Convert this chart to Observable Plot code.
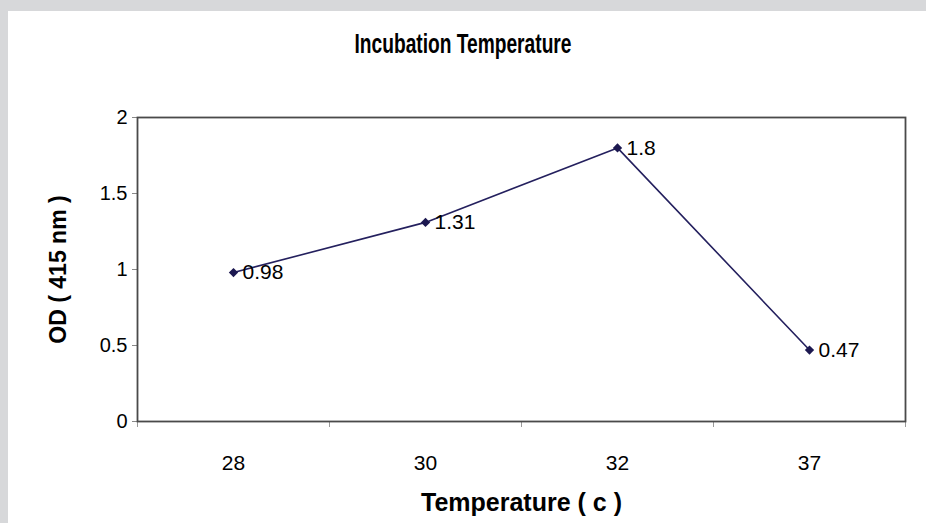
<!DOCTYPE html>
<html><head><meta charset="utf-8">
<script src="https://cdn.jsdelivr.net/npm/d3@7"></script>
<script src="https://cdn.jsdelivr.net/npm/@observablehq/plot@0.6"></script>
<style>
body{margin:0;background:#d7d8da;width:926px;height:523px;overflow:hidden;position:relative;font-family:"Liberation Sans",Arial,sans-serif;}
#panel{position:absolute;left:8px;top:11px;width:918px;height:512px;background:#fff;}
#title{position:absolute;left:0;top:29px;width:926px;text-align:center;font-weight:bold;font-size:27px;line-height:30px;transform:scaleX(0.71);transform-origin:463px 0;}
#chart{position:absolute;left:0;top:90px;}
</style></head><body>
<div id="panel"></div>
<div id="title"></div>
<div id="chart"></div>
<script>
const title = "Incubation Temperature";
const temperatures = ["28", "30", "32", "37"];
const od = [0.98, 1.31, 1.8, 0.47];
const valueLabels = ["0.98", "1.31", "1.8", "0.47"];
const yTicks = [0, 0.5, 1, 1.5, 2];
const xTitle = "Temperature ( c )";
const yTitle = "OD ( 415 nm )";

document.getElementById("title").textContent = title;
const data = temperatures.map((t, i) => ({pos: i + 0.5, t, od: od[i], label: valueLabels[i]}));
const bounds = d3.range(temperatures.length + 1);
const font = '"Liberation Sans",Arial,sans-serif';

const chart = Plot.plot({
  width: 926, height: 433,
  marginLeft: 137, marginRight: 21, marginTop: 27, marginBottom: 102,
  style: {background: "transparent", fontFamily: font, fontSize: "20px", color: "#000"},
  x: {type: "linear", domain: [0, temperatures.length]},
  y: {domain: [0, 2]},
  marks: [
    Plot.axisY({ticks: yTicks, tickSize: 5, tickPadding: 5, label: null, stroke: "#888", fill: "#000", fontSize: 20, tickFormat: d => String(d)}),
    Plot.axisX({ticks: bounds, tickSize: 6, tickFormat: () => "", label: null, stroke: "#999"}),
    Plot.axisX({ticks: data.map(d => d.pos), tickSize: 0, tickPadding: 34, label: null, fill: "#000", fontSize: 21, tickFormat: v => temperatures[Math.round(v - 0.5)]}),
    Plot.frame({stroke: "#4a4a4a", strokeWidth: 1.8}),
    Plot.line(data, {x: "pos", y: "od", stroke: "#24205e", strokeWidth: 1.6}),
    Plot.dot(data, {x: "pos", y: "od", symbol: "diamond2", r: 4.2, fill: "#1c1850", stroke: "none"}),
    Plot.text(data, {x: "pos", y: "od", text: "label", dx: 9, textAnchor: "start", fontSize: 21, fill: "#000"}),
    Plot.text([yTitle], {text: d => d, frameAnchor: "left", textAnchor: "middle", dx: -79, rotate: -90, fontWeight: "bold", fontSize: 23, fill: "#000"}),
    Plot.text([xTitle], {text: d => d, frameAnchor: "bottom", textAnchor: "middle", lineAnchor: "middle", dy: 81, fontWeight: "bold", fontSize: 25, fill: "#000"})
  ]
});
document.getElementById("chart").appendChild(chart);
</script>
</body></html>
